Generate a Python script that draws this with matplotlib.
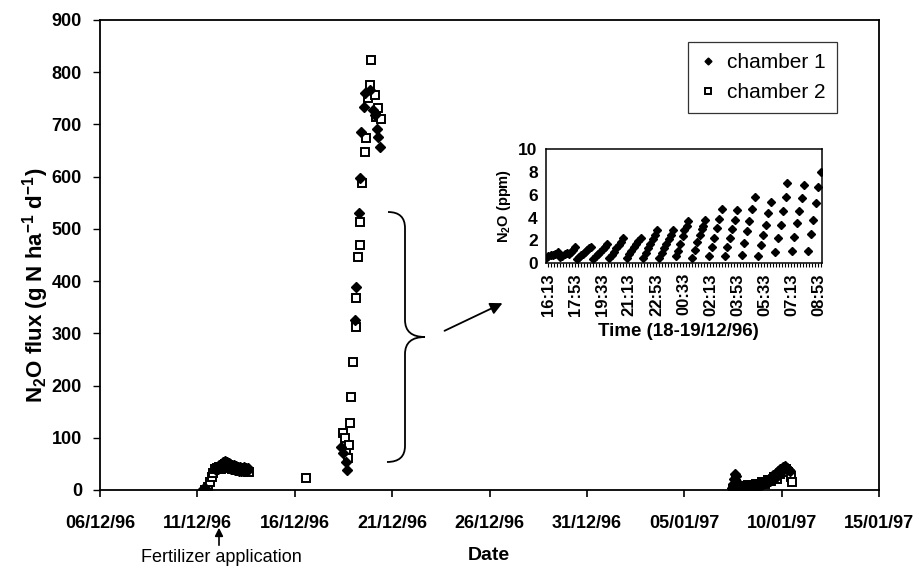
import datetime as dt
import matplotlib
matplotlib.use("Agg")
import matplotlib.pyplot as plt
from matplotlib.path import Path
from matplotlib.patches import PathPatch
from matplotlib.ticker import MultipleLocator
import matplotlib.dates as mdates

plt.rcParams['font.family'] = ['Liberation Sans', 'DejaVu Sans']
plt.rcParams['mathtext.fontset'] = 'custom'
plt.rcParams['mathtext.rm'] = 'Liberation Sans'
plt.rcParams['mathtext.bf'] = 'Liberation Sans:bold'
plt.rcParams['mathtext.default'] = 'bf'

start = dt.datetime(1996, 12, 6)

# chamber 1 : days after 06/12/96 and N2O flux
ch1_day = [5.30, 5.42,
           5.95, 6.00, 6.05, 6.10, 6.15, 6.20, 6.25, 6.30, 6.35, 6.40, 6.45, 6.50,
           6.55, 6.60, 6.65, 6.70, 6.75, 6.80, 6.85, 6.90, 6.95, 7.00, 7.05, 7.10,
           7.15, 7.20, 7.25, 7.30, 7.35, 7.40, 7.45, 7.50, 7.55, 7.60,
           12.39, 12.48, 12.62, 12.68, 13.08, 13.16, 13.28, 13.33, 13.42, 13.54,
           13.59, 13.85, 14.02, 14.10, 14.22, 14.27, 14.36,
           32.45, 32.52, 32.57, 32.62, 32.67, 32.72, 32.78, 32.84, 32.90, 32.96,
           33.02, 33.08, 33.14, 33.20, 33.26, 33.32, 33.38, 33.44, 33.50, 33.56,
           33.62, 33.68, 33.74, 33.80, 33.86, 33.92, 33.98, 34.04, 34.10, 34.16,
           34.22, 34.28, 34.34, 34.40, 34.46, 34.52, 34.58, 34.64, 34.70, 34.76,
           34.82, 34.88, 34.94, 35.00, 35.06, 35.12, 35.18, 35.24, 35.30, 35.36,
           35.42]
ch1_flux = [1, 2,
            38, 44, 40, 47, 42, 50, 44, 53, 46, 56, 48, 54,
            45, 52, 43, 50, 41, 48, 40, 47, 39, 46, 38, 45,
            37, 44, 37, 43, 36, 44, 37, 43, 36, 42,
            83, 71, 54, 38, 326, 389, 530, 597, 686, 733,
            761, 766, 727, 718, 692, 676, 657,
            3, 12, 22, 31, 26, 15, 6, 3, 8, 4,
            7, 3, 8, 4, 9, 5, 9, 5, 10, 6,
            11, 7, 12, 8, 13, 10, 15, 11, 17, 13,
            19, 15, 21, 17, 24, 20, 28, 23, 32, 27,
            36, 31, 40, 36, 44, 40, 46, 42, 43, 39,
            37]

# chamber 2
ch2_day = [5.38, 5.55, 5.64, 5.73, 5.81, 5.90, 6.00, 6.10, 6.20, 6.30, 6.40, 6.50,
           6.60, 6.70, 6.80, 6.90, 7.00, 7.10, 7.20, 7.30, 7.40, 7.50, 7.65,
           10.60, 12.48, 12.56, 12.65, 12.72, 12.78, 12.82, 12.91, 12.99, 13.13,
           13.16, 13.25, 13.33, 13.37, 13.47, 13.59, 13.68, 13.76, 13.85, 13.93,
           14.10, 14.19, 14.27, 14.45,
           32.50, 32.65, 32.80, 32.95, 33.10, 33.25, 33.40, 33.55, 33.70, 33.85,
           34.00, 34.15, 34.30, 34.45, 34.60, 34.75, 34.90, 35.05, 35.20, 35.35,
           35.47, 35.54]
ch2_flux = [0, 6, 16, 24, 32, 40, 42, 44, 41, 46, 49, 47,
            45, 42, 41, 40, 38, 39, 37, 38, 36, 38, 34,
            23, 109, 100, 77, 61, 86, 128, 179, 246, 313,
            368, 447, 470, 514, 588, 648, 674, 751, 775, 823,
            756, 715, 731, 710,
            2, 12, 4, 8, 3, 10, 5, 7, 12, 9,
            15, 12, 20, 17, 24, 22, 30, 36, 40, 35,
            25, 16]

date_ticks = [start + dt.timedelta(days=5 * k) for k in range(9)]

# inset: minutes after 16:13 on 18/12/96 and N2O concentration
inset_min = [-8, 0, 9, 17, 26, 35,
             43, 52, 60, 69, 75, 83, 90, 97,
             107, 115, 122, 130, 137, 144, 152, 159,
             167, 175, 184, 193, 201, 210, 218,
             226, 235, 243, 252, 260, 269, 278,
             290, 299, 307, 316, 325, 333, 342,
             352, 360, 369, 378, 386, 395, 404,
             411, 420, 428, 437, 446, 454, 463,
             473, 479, 488, 497, 504, 512, 518,
             531, 543, 549, 562, 568, 574, 580,
             593, 605, 614, 623, 633, 642,
             654, 663, 673, 681, 691, 697,
             716, 725, 735, 744, 753, 765,
             778, 786, 796, 805, 815, 823,
             839, 852, 860, 870, 879, 885,
             901, 910, 920, 928, 938, 947,
             963, 972, 981, 990, 997, 1008]
inset_ppm = [0.5, 0.6, 0.7, 0.75, 0.8, 0.95,
             0.55, 0.65, 0.8, 0.9, 0.8, 1.0, 1.2, 1.4,
             0.4, 0.55, 0.7, 0.85, 1.0, 1.15, 1.3, 1.45,
             0.4, 0.6, 0.8, 1.0, 1.25, 1.45, 1.65,
             0.5, 0.75, 1.0, 1.3, 1.6, 1.9, 2.2,
             0.5, 0.8, 1.1, 1.4, 1.7, 2.0, 2.2,
             0.5, 0.9, 1.3, 1.7, 2.1, 2.5, 2.9,
             0.5, 0.9, 1.3, 1.7, 2.1, 2.5, 2.9,
             0.6, 1.1, 1.7, 2.4, 2.9, 3.3, 3.7,
             0.5, 1.2, 1.9, 2.5, 3.0, 3.3, 3.8,
             0.6, 1.4, 2.2, 3.1, 3.9, 4.8,
             0.6, 1.4, 2.2, 3.0, 3.8, 4.7,
             0.7, 1.8, 2.8, 3.7, 4.8, 5.8,
             0.6, 1.6, 2.5, 3.4, 4.4, 5.4,
             1.0, 2.2, 3.4, 4.6, 5.8, 7.0,
             1.1, 2.3, 3.5, 4.6, 5.7, 6.9,
             1.1, 2.6, 3.8, 5.3, 6.7, 8.0]
inset_tick_min = [0, 100, 200, 300, 400, 500, 600, 700, 800, 900, 1000]
inset_tick_lab = ["16:13", "17:53", "19:33", "21:13", "22:53", "00:33",
                  "02:13", "03:53", "05:33", "07:13", "08:53"]

W, H = 916, 570
fig = plt.figure(figsize=(W / 100, H / 100), dpi=100)

# main chart
ax = fig.add_axes([100 / W, 1 - 490 / H, 779 / W, 470 / H])
ch1_dates = [start + dt.timedelta(days=d) for d in ch1_day]
ch2_dates = [start + dt.timedelta(days=d) for d in ch2_day]
ax.plot(ch1_dates, ch1_flux, 'D', color='k', ms=5, ls='none', label='chamber 1',
        zorder=4)
ax.plot(ch2_dates, ch2_flux, 's', mfc='white', mec='k', mew=1.4, ms=5.5, ls='none',
        label='chamber 2', zorder=3)

ax.set_xlim(date_ticks[0], date_ticks[-1])
ax.set_ylim(0, 900)
ax.set_xticks(date_ticks)
ax.xaxis.set_major_formatter(mdates.DateFormatter('%d/%m/%y'))
ax.yaxis.set_major_locator(MultipleLocator(100))
ax.tick_params(axis='x', direction='out', length=5, width=1.2, pad=13, labelsize=13)
ax.tick_params(axis='y', direction='out', length=5, width=1, pad=8, labelsize=13)
for lab in ax.get_xticklabels() + ax.get_yticklabels():
    lab.set_fontweight('bold')
for sp in ax.spines.values():
    sp.set_linewidth(1.3)

leg = ax.legend(loc='upper right', bbox_to_anchor=(837 / W, 1 - 42 / H),
                bbox_transform=fig.transFigure, fontsize=15, frameon=True,
                fancybox=False, edgecolor='k', handlelength=0.8, handletextpad=0.5,
                borderpad=0.55, labelspacing=0.5, markerscale=0.7, borderaxespad=0)
leg.get_frame().set_linewidth(0.9)

fig.text(489 / W, 1 - 555 / H, 'Date', ha='center', va='center', fontsize=14,
         fontweight='bold')
fig.text(36 / W, 1 - 285 / H, 'N$_2$O flux (g N ha$^{-1}$ d$^{-1}$)', rotation=90,
         ha='center', va='center', fontsize=16, fontweight='bold')

# fertilizer note
fig.text(221 / W, 1 - 558 / H, 'Fertilizer application', ha='center', va='center',
         fontsize=13)
ax.annotate('', xy=(219, H - 525), xytext=(219, H - 548), xycoords='figure pixels',
            textcoords='figure pixels', annotation_clip=False,
            arrowprops=dict(arrowstyle='-|>', color='k', lw=1.2, mutation_scale=12))

# brace and arrow to the inset
def px(x, y):
    return (x / W, 1 - y / H)

verts = [px(388, 212), px(405, 212), px(405, 228),
         px(405, 320),
         px(405, 337), px(425, 337),
         px(405, 337), px(405, 354),
         px(405, 446),
         px(405, 462), px(387, 462)]
codes = [Path.MOVETO, Path.CURVE3, Path.CURVE3,
         Path.LINETO,
         Path.CURVE3, Path.CURVE3,
         Path.CURVE3, Path.CURVE3,
         Path.LINETO,
         Path.CURVE3, Path.CURVE3]
fig.add_artist(PathPatch(Path(verts, codes), fill=False, lw=1.3, color='k',
                         transform=fig.transFigure))
ax.annotate('', xy=(505, H - 302), xytext=(442, H - 332), xycoords='figure pixels',
            textcoords='figure pixels', annotation_clip=False,
            arrowprops=dict(arrowstyle='-|>', color='k', lw=1.3, mutation_scale=18))

# inset chart
ax2 = fig.add_axes([546 / W, 1 - 263.3 / H, 275.7 / W, 114 / H])
ax2.plot(inset_min, inset_ppm, 'D', color='k', ms=4.5, ls='none')
ax2.set_xlim(-8.6, 1012)
ax2.set_ylim(0, 10)
ax2.yaxis.set_major_locator(MultipleLocator(2))
ax2.set_xticks(inset_tick_min)
ax2.set_xticklabels(inset_tick_lab, rotation=90)
ax2.xaxis.set_minor_locator(MultipleLocator(100 / 9))
ax2.tick_params(axis='x', which='both', direction='out', length=3, width=0.8,
                pad=4, labelsize=12)
ax2.tick_params(axis='y', direction='out', length=0, pad=6, labelsize=12.5)
for lab in ax2.get_xticklabels() + ax2.get_yticklabels():
    lab.set_fontweight('bold')
for sp in ax2.spines.values():
    sp.set_linewidth(1.1)
ax2.set_ylabel('N$_2$O (ppm)', fontsize=10.5, fontweight='bold', labelpad=4)
fig.text(678 / W, 1 - 332 / H, 'Time (18-19/12/96)', ha='center', va='center',
         fontsize=13.5, fontweight='bold')

fig.savefig('out.png', dpi=100)
